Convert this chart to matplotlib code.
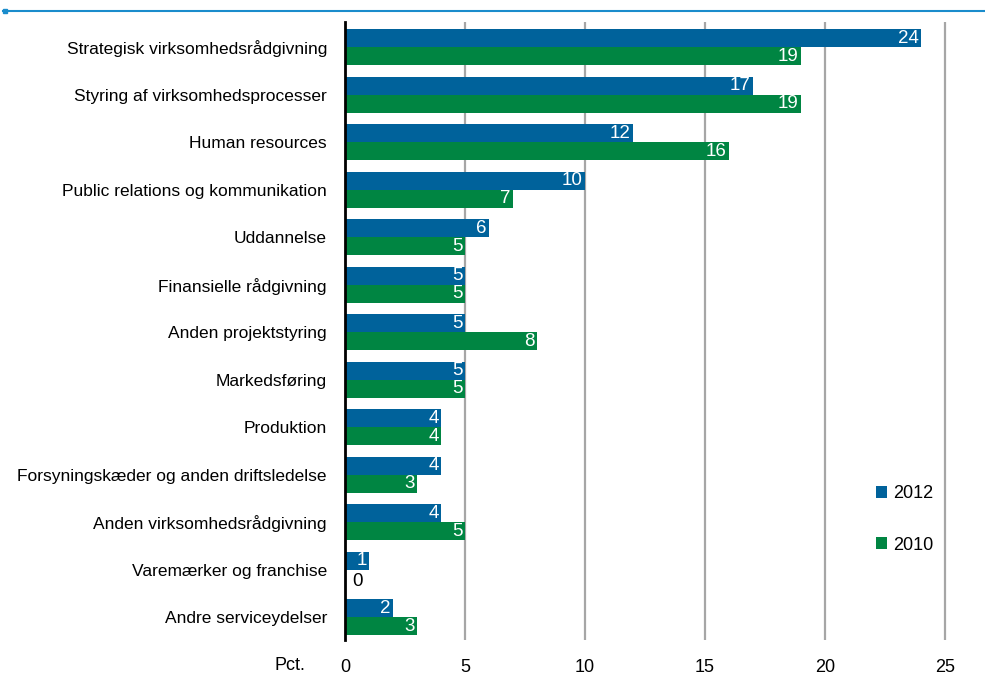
import matplotlib
matplotlib.use("Agg")
import matplotlib.pyplot as plt
from matplotlib import font_manager as fm
import numpy as np

categories = ["Strategisk virksomhedsrådgivning", "Styring af virksomhedsprocesser",
              "Human resources", "Public relations og kommunikation", "Uddannelse",
              "Finansielle rådgivning", "Anden projektstyring", "Markedsføring",
              "Produktion", "Forsyningskæder og anden driftsledelse",
              "Anden virksomhedsrådgivning", "Varemærker og franchise", "Andre serviceydelser"]
v2012 = [24, 17, 12, 10, 6, 5, 5, 5, 4, 4, 4, 1, 2]
v2010 = [19, 19, 16, 7, 5, 5, 8, 5, 4, 3, 5, 0, 3]
series_labels = ["2012", "2010"]
xticks = [0, 5, 10, 15, 20, 25]

names = {f.name for f in fm.fontManager.ttflist}
fam = ["Liberation Sans Narrow", "DejaVu Sans"] if "Liberation Sans Narrow" in names else ["Liberation Sans", "DejaVu Sans"]
plt.rcParams['font.family'] = fam

blue = "#00629B"
green = "#008542"

fig = plt.figure(figsize=(9.85, 6.84), dpi=100)
ax = fig.add_axes([345 / 985, 1 - 640 / 684, (26 * 24) / 985, (640 - 22) / 684])

n = len(categories)
y = np.arange(n)
h = 0.38
ax.barh(y - h / 2, v2012, height=h, color=blue, label=series_labels[0], zorder=3)
ax.barh(y + h / 2, v2010, height=h, color=green, label=series_labels[1], zorder=3)

lbl_fs = 13.5
for yi, v in zip(y, v2012):
    if v > 0:
        ax.text(v - 0.1, yi - h / 2, str(v), ha="right", va="center", color="white", fontsize=lbl_fs, zorder=4)
    else:
        ax.text(0.3, yi - h / 2, str(v), ha="left", va="center", color="black", fontsize=lbl_fs, zorder=4)
for yi, v in zip(y, v2010):
    if v > 0:
        ax.text(v - 0.1, yi + h / 2, str(v), ha="right", va="center", color="white", fontsize=lbl_fs, zorder=4)
    else:
        ax.text(0.3, yi + h / 2 + 0.05, str(v), ha="left", va="center", color="black", fontsize=lbl_fs, zorder=4)

ax.set_ylim(n - 1 + 0.48, -0.53)
ax.set_xlim(0, 26)
ax.set_yticks(y)
ax.set_yticklabels(categories, fontsize=12.5)
ax.set_xticks(xticks)
ax.set_xticklabels([str(t) for t in xticks], fontsize=13)
ax.tick_params(axis="both", length=0)
ax.tick_params(axis="y", pad=13)
ax.tick_params(axis="x", pad=14)
for s in ["top", "right", "bottom"]:
    ax.spines[s].set_visible(False)
ax.spines["left"].set_linewidth(2)
ax.spines["left"].set_zorder(5)
ax.xaxis.grid(True, color="#a6a6a6", linewidth=1.6, zorder=0)
ax.set_axisbelow(True)

fig.text(305 / 985, 1 - 665 / 684, "Pct.", ha="right", va="center", fontsize=13)

leg = ax.legend(loc="upper left", bbox_to_anchor=((860 - 345) / (26 * 24), (640 - 469) / 618),
                frameon=False, fontsize=13, handlelength=0.6, handleheight=0.6,
                handletextpad=0.35, labelspacing=1.9)

# top rule
fig.add_artist(plt.Line2D([3 / 985, 1], [1 - 11 / 684, 1 - 11 / 684], color="#1a8ccc", linewidth=1.5))
fig.add_artist(plt.Rectangle((3 / 985, 1 - 13 / 684), 4 / 985, 4 / 684, color="#1a8ccc"))

fig.savefig("out.png", dpi=100)
